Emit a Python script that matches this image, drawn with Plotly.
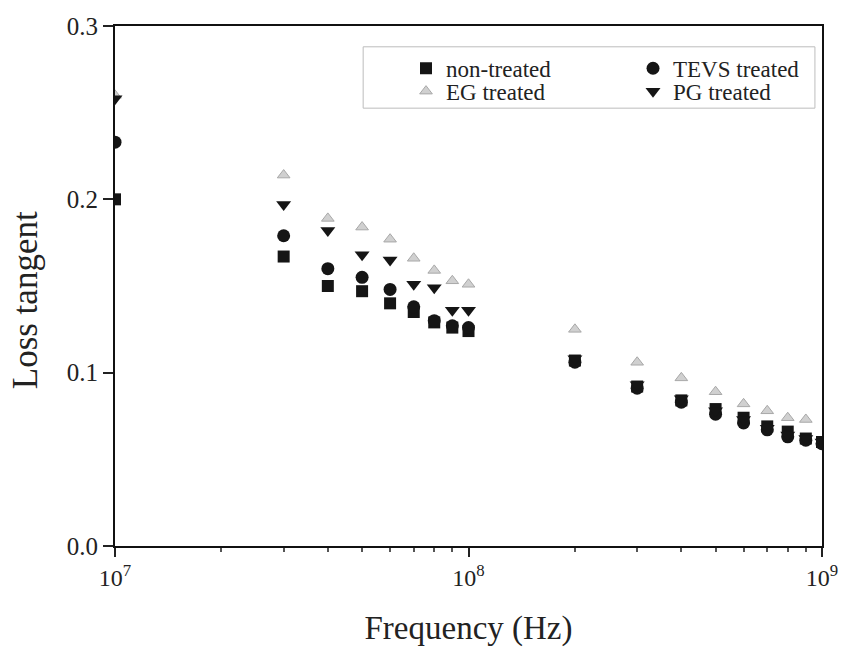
import plotly.graph_objects as go

freq = [1e7, 3e7, 4e7, 5e7, 6e7, 7e7, 8e7, 9e7, 1e8, 2e8, 3e8, 4e8, 5e8, 6e8, 7e8, 8e8, 9e8, 1e9]
non_treated = [0.200, 0.167, 0.150, 0.147, 0.140, 0.135, 0.129, 0.126, 0.124, 0.107, 0.092, 0.084, 0.079, 0.074, 0.069, 0.066, 0.062, 0.060]
tevs_treated = [0.233, 0.179, 0.160, 0.155, 0.148, 0.138, 0.130, 0.127, 0.126, 0.106, 0.091, 0.083, 0.076, 0.071, 0.067, 0.063, 0.061, 0.059]
eg_treated = [0.260, 0.214, 0.189, 0.184, 0.177, 0.166, 0.159, 0.153, 0.151, 0.125, 0.106, 0.097, 0.089, 0.082, 0.078, 0.074, 0.073, None]
pg_treated = [0.258, 0.197, 0.182, 0.168, 0.165, 0.151, 0.149, 0.136, 0.136, 0.108, 0.093, 0.085, 0.078, 0.073, 0.068, 0.064, 0.062, 0.060]

x_tickvals = [1e7, 1e8, 1e9]
x_ticktext = ["10<sup>7</sup>", "10<sup>8</sup>", "10<sup>9</sup>"]
x_minor = [m * 10 ** e for e in (7, 8) for m in range(2, 10)]
y_tickvals = [0.0, 0.1, 0.2, 0.3]

FONT = "Liberation Serif"

fig = go.Figure()
fig.add_trace(go.Scatter(x=freq, y=non_treated, mode="markers", name="non-treated",
                         marker=dict(symbol="square", size=12, color="#151515"),
                         legend="legend", showlegend=True))
fig.add_trace(go.Scatter(x=freq, y=eg_treated, mode="markers", name="EG treated",
                         marker=dict(symbol="triangle-up", size=11, color="#d0d0d0",
                                     line=dict(color="#a8a8a8", width=1)),
                         legend="legend2", showlegend=True))
fig.add_trace(go.Scatter(x=freq, y=tevs_treated, mode="markers", name="TEVS treated",
                         marker=dict(symbol="circle", size=13, color="#151515"),
                         legend="legend3", showlegend=True))
fig.add_trace(go.Scatter(x=freq, y=pg_treated, mode="markers", name="PG treated",
                         marker=dict(symbol="triangle-down", size=13, color="#151515"),
                         legend="legend4", showlegend=True))

legend_common = dict(bgcolor="rgba(0,0,0,0)", borderwidth=0, orientation="v",
                     yanchor="top", xanchor="left", tracegroupgap=0,
                     font=dict(family=FONT, size=23, color="#222"))
fig.update_layout(
    width=849, height=651,
    margin=dict(l=115, r=27, t=26, b=105),
    paper_bgcolor="white", plot_bgcolor="white",
    showlegend=True,
    font=dict(family=FONT, size=24, color="#222"),
    legend=dict(x=0.4116, y=0.960, **legend_common),
    legend2=dict(x=0.4116, y=0.916, **legend_common),
    legend3=dict(x=0.7327, y=0.960, **legend_common),
    legend4=dict(x=0.7327, y=0.916, **legend_common),
    xaxis=dict(type="log", range=[7, 9], tickvals=x_tickvals, ticktext=x_ticktext,
               ticks="outside", ticklen=9, tickwidth=1.5, tickcolor="#222",
               minor=dict(tickvals=x_minor, ticks="outside", ticklen=4, tickcolor="#555"),
               showline=True, linecolor="#111", linewidth=2, mirror=True,
               showgrid=False, zeroline=False,
               tickfont=dict(family=FONT, size=24),
               title=dict(text="Frequency (Hz)", font=dict(family=FONT, size=33), standoff=26)),
    yaxis=dict(range=[0, 0.3], tickvals=y_tickvals, tickformat=".1f",
               ticks="outside", ticklen=10, tickwidth=1.5, tickcolor="#222",
               showline=True, linecolor="#111", linewidth=2, mirror=True,
               showgrid=False, zeroline=False,
               tickfont=dict(family=FONT, size=25)),
    xaxis2=dict(type="log", range=[7, 9], overlaying="x", side="top",
                tickvals=x_tickvals, showticklabels=False, ticks="inside", ticklen=5,
                tickcolor="#444",
                minor=dict(tickvals=x_minor, ticks="inside", ticklen=3, tickcolor="#777"),
                showgrid=False, zeroline=False, showline=False),
    yaxis2=dict(range=[0, 0.3], overlaying="y", side="right", tickvals=y_tickvals,
                showticklabels=False, ticks="inside", ticklen=6, tickcolor="#444",
                showgrid=False, zeroline=False, showline=False),
    annotations=[dict(text="Loss tangent", textangle=-90, xref="paper", yref="paper",
                      x=-0.127, y=0.473, xanchor="center", yanchor="middle", showarrow=False,
                      font=dict(family=FONT, size=35, color="#222"))],
    shapes=[dict(type="rect", xref="paper", yref="paper", x0=0.351, x1=0.990, y0=0.842, y1=0.960,
                 line=dict(color="#bdbdbd", width=1), fillcolor="rgba(0,0,0,0)")],
)
fig.write_html("out.html")
